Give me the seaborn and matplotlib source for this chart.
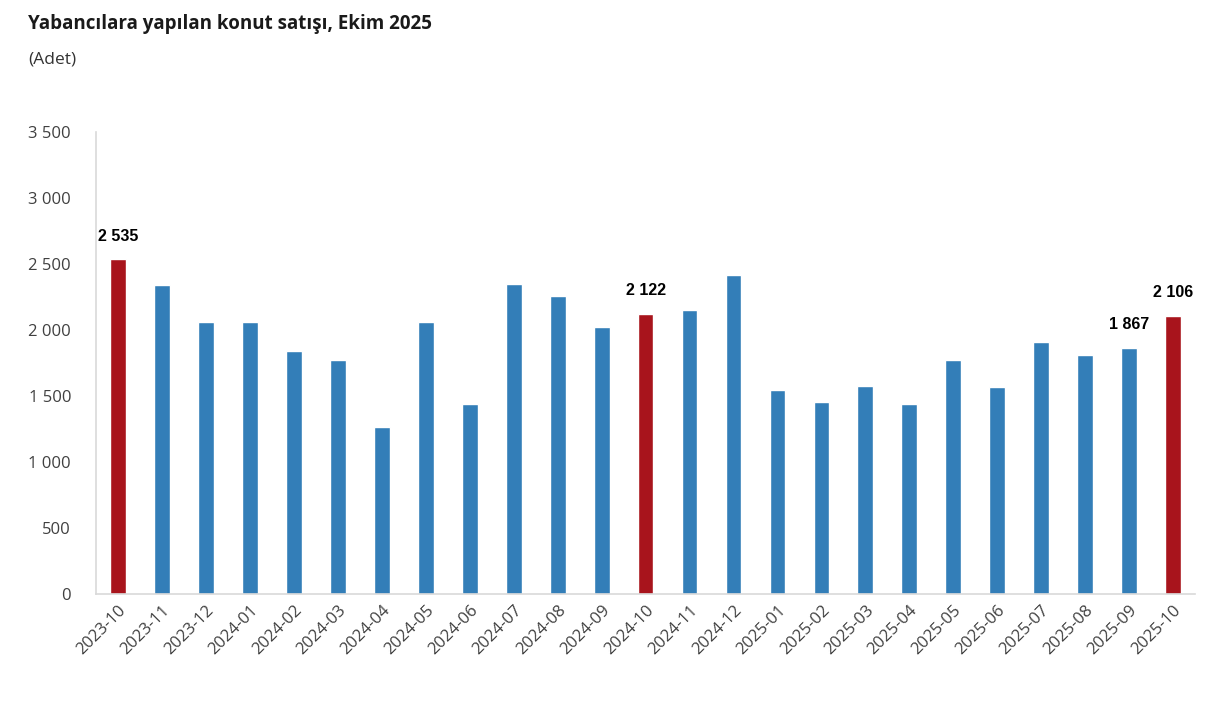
import pandas as pd
import matplotlib.pyplot as plt
import seaborn as sns

months = [
    "2023-10", "2023-11", "2023-12", "2024-01", "2024-02", "2024-03",
    "2024-04", "2024-05", "2024-06", "2024-07", "2024-08", "2024-09",
    "2024-10", "2024-11", "2024-12", "2025-01", "2025-02", "2025-03",
    "2025-04", "2025-05", "2025-06", "2025-07", "2025-08", "2025-09",
    "2025-10",
]
sales = [
    2535, 2342, 2061, 2061, 1841, 1773,
    1265, 2061, 1439, 2348, 2255, 2020,
    2122, 2149, 2417, 1545, 1455, 1573,
    1437, 1770, 1566, 1911, 1808, 1867,
    2106,
]
highlighted = ["2023-10", "2024-10", "2025-10"]
labelled = ["2023-10", "2024-10", "2025-09", "2025-10"]

df = pd.DataFrame({"month": months, "sales": sales})
df["group"] = ["red" if m in highlighted else "blue" for m in df["month"]]


def fmt(v):
    return f"{int(v):,}".replace(",", " ")


sns.set_style("white")
plt.rcParams["font.family"] = ["Open Sans", "DejaVu Sans"]

fig = plt.figure(figsize=(12.22, 7.18), dpi=100)
ax = fig.add_axes([0.0786, 0.1727, 0.8994, 0.6435])

sns.barplot(
    data=df,
    x="month",
    y="sales",
    hue="group",
    palette={"blue": "#337EB8", "red": "#A8141C"},
    saturation=1,
    dodge=False,
    legend=False,
    width=0.36,
    ax=ax
)

ax.set_xlim(-0.5, len(months) - 0.5)
ax.set_ylim(0, 3500)
ax.set_yticks(range(0, 3501, 500))
ax.set_yticklabels([fmt(t) for t in range(0, 3501, 500)])
ax.set_xlabel("")
ax.set_ylabel("")

ax.tick_params(axis="both", length=0, labelsize=12, colors="#404040")
ax.tick_params(axis="y", pad=18)
ax.tick_params(axis="x", pad=6)
for lbl in ax.get_xticklabels():
    lbl.set_rotation(45)
    lbl.set_ha("right")
    lbl.set_rotation_mode("anchor")

for side in ["top", "right"]:
    ax.spines[side].set_visible(False)
for side in ["left", "bottom"]:
    ax.spines[side].set_color("#d9d9d9")
    ax.spines[side].set_linewidth(1.2)

for i, (m, v) in enumerate(zip(months, sales)):
    if m in labelled:
        ax.text(
            i, v + 175, fmt(v),
            ha="center", va="center",
            fontsize=11.5, fontweight="bold",
            family=["Liberation Sans", "DejaVu Sans"],
            color="black"
        )

fig.text(0.023, 0.967, "Yabancılara yapılan konut satışı, Ekim 2025",
         fontsize=13.5, fontweight="bold", color="#1a1a1a", va="center")
fig.text(0.023, 0.917, "(Adet)", fontsize=12.5, color="#333333", va="center")

fig.savefig("out.png", dpi=100)
